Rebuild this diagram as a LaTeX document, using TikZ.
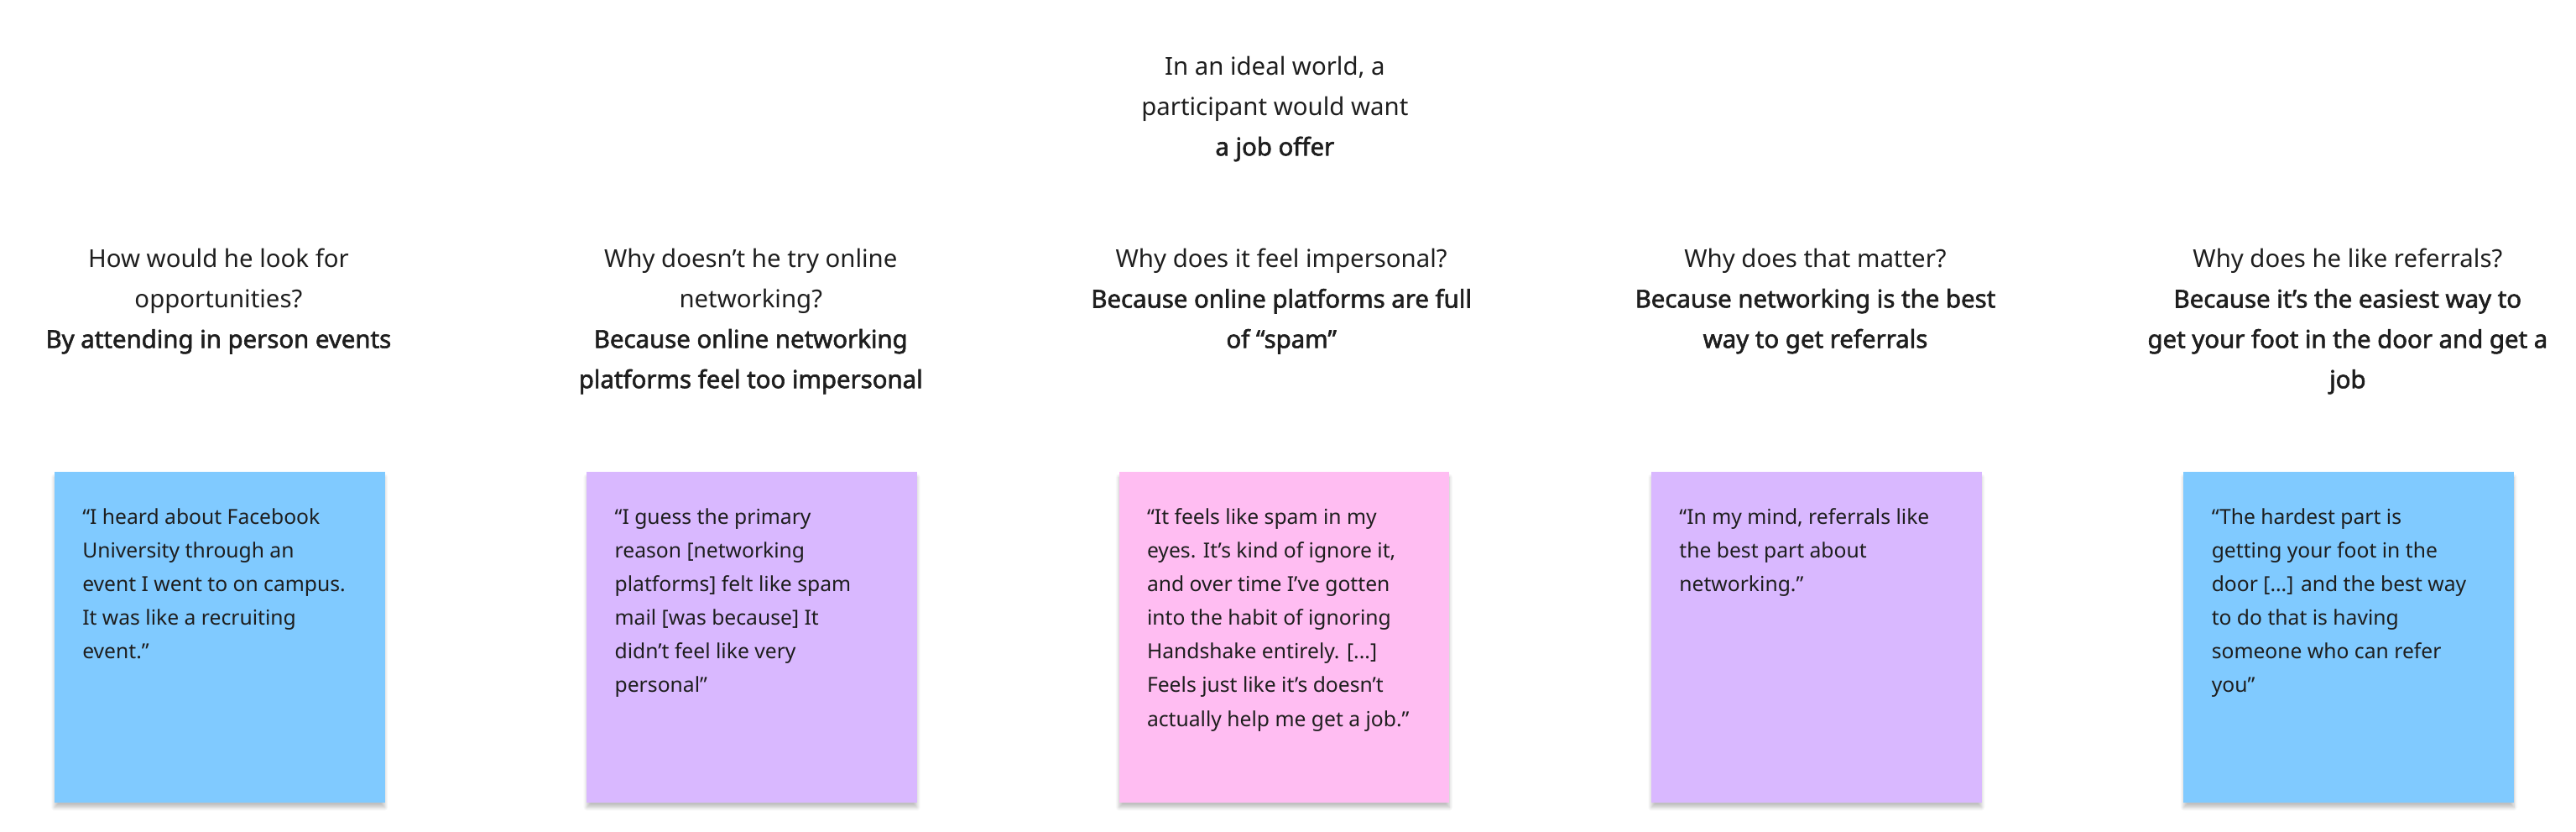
\documentclass[tikz,border=0pt]{standalone}
\usepackage{fontspec}
\setmainfont{Noto Sans}[AutoFakeBold=2]
\usetikzlibrary{shadows.blur}
\definecolor{sblue}{HTML}{80CAFF}
\definecolor{spurple}{HTML}{D9B8FF}
\definecolor{spink}{HTML}{FFBDF2}
\definecolor{ink}{HTML}{1E1E1E}
\begin{document}
\begin{tikzpicture}[x=1pt,y=1pt,
  sticky/.style={minimum width=201pt,minimum height=201pt,inner sep=0pt,anchor=north west,
    blur shadow={shadow xshift=0pt,shadow yshift=-3pt,shadow blur steps=8,shadow opacity=25}},
  quote/.style={anchor=north west,align=left,inner sep=0pt,font=\fontsize{12.6}{20.5}\selectfont,text=ink},
  head/.style={anchor=north,align=center,inner sep=0pt,font=\fontsize{15}{24.5}\selectfont,text=ink}]
\useasboundingbox (0,0) rectangle (1568,-506);
\node[head] (title) at (776,-34) {In an ideal world, a\\participant would want\\\textbf{a job offer}};
\node[head] (h1) at (133,-151) {How would he look for\\opportunities?\\\textbf{By attending in person events}};
\node[head] (h2) at (457,-151) {Why doesn’t he try online\\networking?\\\textbf{Because online networking}\\\textbf{platforms feel too impersonal}};
\node[head] (h3) at (780,-151) {Why does it feel impersonal?\\\textbf{Because online platforms are full}\\\textbf{of “spam”}};
\node[head] (h4) at (1105,-151) {Why does that matter?\\\textbf{Because networking is the best}\\\textbf{way to get referrals}};
\node[head] (h5) at (1429,-151) {Why does he like referrals?\\\textbf{Because it’s the easiest way to}\\\textbf{get your foot in the door and get a}\\\textbf{job}};
\node[sticky,fill=sblue] (s1) at (33,-287) {};
\node[sticky,fill=spurple] (s2) at (357,-287) {};
\node[sticky,fill=spink] (s3) at (681,-287) {};
\node[sticky,fill=spurple] (s4) at (1005,-287) {};
\node[sticky,fill=sblue] (s5) at (1329,-287) {};
\node[quote] (q1) at ([shift={(17,-22)}]s1.north west) {“I heard about Facebook\\University through an\\event I went to on campus.\\It was like a recruiting\\event.”};
\node[quote] (q2) at ([shift={(17,-22)}]s2.north west) {“I guess the primary\\reason [networking\\platforms] felt like spam\\mail [was because] It\\didn't feel like very\\personal”};
\node[quote] (q3) at ([shift={(17,-22)}]s3.north west) {“It feels like spam in my\\eyes. It's kind of ignore it,\\and over time I’ve gotten\\into the habit of ignoring\\Handshake entirely. [...]\\Feels just like it's doesn't\\actually help me get a job.”};
\node[quote] (q4) at ([shift={(17,-22)}]s4.north west) {“In my mind, referrals like\\the best part about\\networking.”};
\node[quote] (q5) at ([shift={(17,-22)}]s5.north west) {“The hardest part is\\getting your foot in the\\door [...] and the best way\\to do that is having\\someone who can refer\\you”};
\end{tikzpicture}
\end{document}
